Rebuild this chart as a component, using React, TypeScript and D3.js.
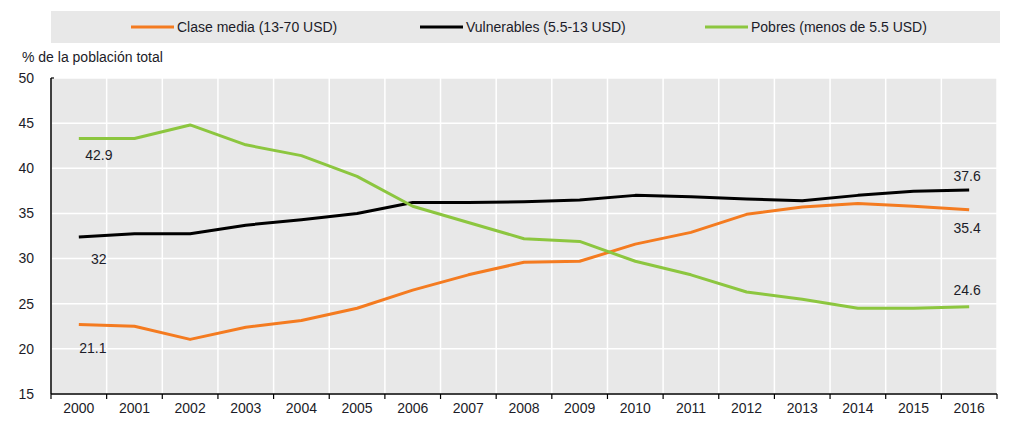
import React, { useEffect } from 'react';
import * as d3 from 'd3';

const years = ['2000', '2001', '2002', '2003', '2004', '2005', '2006', '2007', '2008',
    '2009', '2010', '2011', '2012', '2013', '2014', '2015', '2016'];
const claseMedia = [22.7, 22.5, 21.05, 22.4, 23.15, 24.5, 26.5, 28.2, 29.6, 29.7, 31.6, 32.9, 34.9, 35.7, 36.1, 35.8, 35.4];
const vulnerables = [32.4, 32.75, 32.75, 33.7, 34.3, 35.0, 36.2, 36.2, 36.3, 36.5, 37.0, 36.85, 36.6, 36.4, 37.0, 37.45, 37.6];
const pobres = [43.3, 43.3, 44.8, 42.6, 41.4, 39.1, 35.8, 34.0, 32.2, 31.9, 29.7, 28.2, 26.3, 25.5, 24.5, 24.5, 24.65];
const yTicks = [15, 20, 25, 30, 35, 40, 45, 50];

const series = [
    { name: 'Clase media (13-70 USD)', values: claseMedia, color: '#f47b20' },
    { name: 'Vulnerables (5.5-13 USD)', values: vulnerables, color: '#000000' },
    { name: 'Pobres (menos de 5.5 USD)', values: pobres, color: '#8cc63f' },
];

// value labels: [series index, year index, text, dx, dy]
const annotations: [number, number, string, number, number][] = [
    [2, 0, '42.9', 20, 17],
    [1, 0, '32', 20, 22],
    [0, 0, '21.1', 14, 24],
    [1, 16, '37.6', -2, -14],
    [0, 16, '35.4', -2, 18],
    [2, 16, '24.6', -2, -17],
];

const FONT = "'Liberation Sans', Arial, sans-serif";
const TEXT = '#1c1c28';
const FS = 14;

export default function App() {
    useEffect(() => {
        document.body.style.margin = '0';
    }, []);

    const margin = { top: 78, right: 33, bottom: 30, left: 51 };
    const W = 1030, H = 424;
    const x = d3.scaleBand<string>().domain(years).range([margin.left, W - margin.right]);
    const y = d3.scaleLinear().domain([15, 50]).range([H - margin.bottom, margin.top]);
    const cx = (i: number) => x(years[i])! + x.bandwidth() / 2;
    const line = d3.line<number>().x((_, i) => cx(i)).y(d => y(d));

    const x0 = margin.left, x1 = W - margin.right;
    const y0 = y(15), y1 = y(50);
    const boundaries = years.map(yr => x(yr)!).concat([x1]);

    const legendX = [131, 420, 705];

    return (
        <svg width={W} height={H} style={{ display: 'block', fontFamily: FONT }}>
            <rect x={0} y={0} width={W} height={H} fill="#ffffff" />
            {/* legend */}
            <rect x={51} y={11} width={949} height={32} fill="#e8e8e8" />
            {series.map((s, i) => (
                <g key={s.name}>
                    <line x1={legendX[i]} x2={legendX[i] + 43} y1={27} y2={27} stroke={s.color} strokeWidth={3} />
                    <text x={legendX[i] + 46} y={27} dy="0.35em" fontSize={FS} fill={TEXT}>{s.name}</text>
                </g>
            ))}
            <text x={22} y={57} dy="0.35em" fontSize={FS} fill={TEXT}>% de la población total</text>

            {/* plot area */}
            <rect x={x0} y={y1} width={x1 - x0} height={y0 - y1} fill="#e8e8e8" />
            {yTicks.map(t => (
                <line key={t} x1={x0} x2={x1} y1={y(t)} y2={y(t)} stroke="#ffffff" strokeWidth={1.5} />
            ))}
            {boundaries.map((b, i) => (
                <line key={i} x1={b} x2={b} y1={y1} y2={y0} stroke="#ffffff" strokeWidth={1.5} />
            ))}

            {/* axes */}
            <line x1={x0} x2={x0} y1={y1} y2={y0} stroke="#000" strokeWidth={1.5} />
            <line x1={x0} x2={x0 + 3} y1={y1} y2={y1} stroke="#000" strokeWidth={1.2} />
            <line x1={x0} x2={x1} y1={y0} y2={y0} stroke="#000" strokeWidth={1.5} />
            {boundaries.map((b, i) => (
                <line key={i} x1={b} x2={b} y1={y0} y2={y0 + 5} stroke="#000" strokeWidth={1.2} />
            ))}
            {yTicks.map(t => (
                <text key={t} x={34} y={y(t)} dy="0.35em" textAnchor="end" fontSize={FS} fill={TEXT}>{t}</text>
            ))}
            {years.map((yr, i) => (
                <text key={yr} x={cx(i)} y={y0 + 14} dy="0.35em" textAnchor="middle" fontSize={FS} fill={TEXT}>{yr}</text>
            ))}

            {/* lines */}
            {series.map(s => (
                <path key={s.name} d={line(s.values) || ''} fill="none" stroke={s.color} strokeWidth={3} strokeLinejoin="round" />
            ))}

            {annotations.map(([si, yi, label, dx, dy], k) => (
                <text key={k} x={cx(yi) + dx} y={y(series[si].values[yi]) + dy} dy="0.35em" textAnchor="middle"
                    fontSize={FS} fill={TEXT}>{label}</text>
            ))}
        </svg>
    );
}
